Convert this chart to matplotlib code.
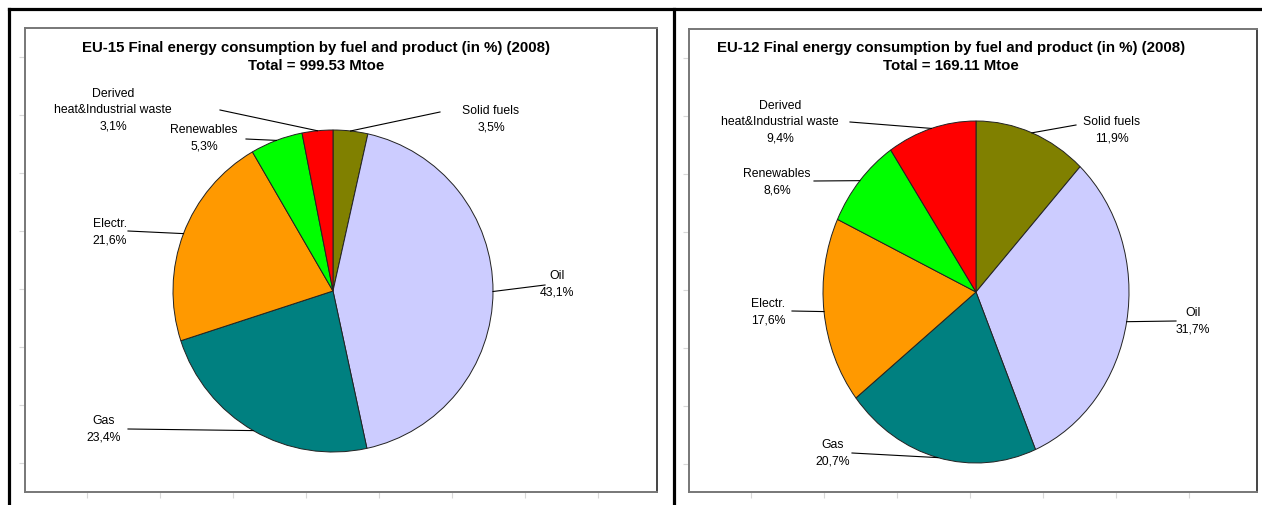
import numpy as np
import matplotlib
matplotlib.use("Agg")
import matplotlib.pyplot as plt
from matplotlib.lines import Line2D

# data
fuels = ["Solid fuels", "Oil", "Gas", "Electr.", "Renewables",
         "Derived\nheat&Industrial waste"]
eu15_share = [3.5, 43.1, 23.4, 21.6, 5.3, 3.1]
eu12_share = [11.9, 31.7, 20.7, 17.6, 8.6, 9.4]
eu15_title = "EU-15 Final energy consumption by fuel and product (in %) (2008)\nTotal = 999.53 Mtoe"
eu12_title = "EU-12 Final energy consumption by fuel and product (in %) (2008)\nTotal = 169.11 Mtoe"
colors = ["#808000", "#CCCCFF", "#008080", "#FF9900", "#00FF00", "#FF0000"]

W, H = 1262, 506
plt.rcParams['font.family'] = ['Liberation Sans', 'DejaVu Sans']

fig = plt.figure(figsize=(W / 100, H / 100), dpi=100)


def fx(px):
    return px / W


def fy(py):
    return 1 - py / H


def panel(box, title, title_xy, center, rx, ry, shares, text_pos, anchors):
    # grey chart frame with faint ticks
    fr = fig.add_axes([fx(box[0]), fy(box[3]), fx(box[2] - box[0]), (box[3] - box[1]) / H])
    fr.set_xlim(box[0], box[2])
    fr.set_ylim(box[3], box[1])
    fr.set_xticks(np.arange(box[0] + 62, box[2], 73))
    fr.set_yticks(np.arange(box[1] + 29, box[3], 58))
    fr.tick_params(direction='out', length=4, color='#d8d8d8', labelleft=False, labelbottom=False)
    for s in fr.spines.values():
        s.set_color('#777777')
        s.set_linewidth(1.4)
    fr.spines['right'].set_color('#444444')

    fig.text(fx(title_xy[0]), fy(title_xy[1]), title, ha='center', va='center',
             fontsize=10.8, fontweight='bold', linespacing=1.45)

    cx, cy = center
    ax = fig.add_axes([fx(cx - rx), fy(cy + ry), 2 * rx / W, 2 * ry / H])
    wedges, _ = ax.pie(shares, colors=colors, startangle=90, counterclock=False, radius=1,
                       wedgeprops=dict(edgecolor='#222222', linewidth=0.7))
    ax.set_aspect('auto')
    ax.set_xlim(-1, 1)
    ax.set_ylim(-1, 1)
    ax.axis('off')

    for w, name, val, tp, an in zip(wedges, fuels, shares, text_pos, anchors):
        mid = np.deg2rad((w.theta1 + w.theta2) / 2)
        ex, ey = np.cos(mid), np.sin(mid)
        ax_, ay_ = (an[0] - cx) / rx, (cy - an[1]) / ry
        ax.add_line(Line2D([ex, ax_], [ey, ay_], color='black', lw=0.8, clip_on=False))
        lbl = name + "\n" + ("%.1f%%" % val).replace(".", ",")
        ax.text((tp[0] - cx) / rx, (cy - tp[1]) / ry, lbl, ha='center', va='center',
                fontsize=8.8, linespacing=1.45, clip_on=False)


# EU-15
panel([25, 29, 657, 493], eu15_title, (316, 57), (333, 292), 160, 161, eu15_share,
      [(491, 119), (557, 284), (104, 429), (110, 232), (204, 138), (113, 110)],
      [(440, 113), (545, 286), (128, 430), (128, 232), (246, 140), (220, 111)])

# EU-12
panel([689, 30, 1257, 493], eu12_title, (951, 57), (976, 293), 153, 171, eu12_share,
      [(1112, 130), (1193, 321), (833, 453), (768, 312), (777, 182), (780, 122)],
      [(1076, 126), (1176, 322), (852, 454), (792, 312), (814, 182), (850, 123)])

# outer black frame
for xs, ys in [([9, 9], [10, H]), ([9, W], [10, 10]), ([674, 674], [10, H])]:
    fig.add_artist(Line2D([fx(x) for x in xs], [fy(y) for y in ys], color='black', lw=2.3))

fig.savefig("out.png", dpi=100)
